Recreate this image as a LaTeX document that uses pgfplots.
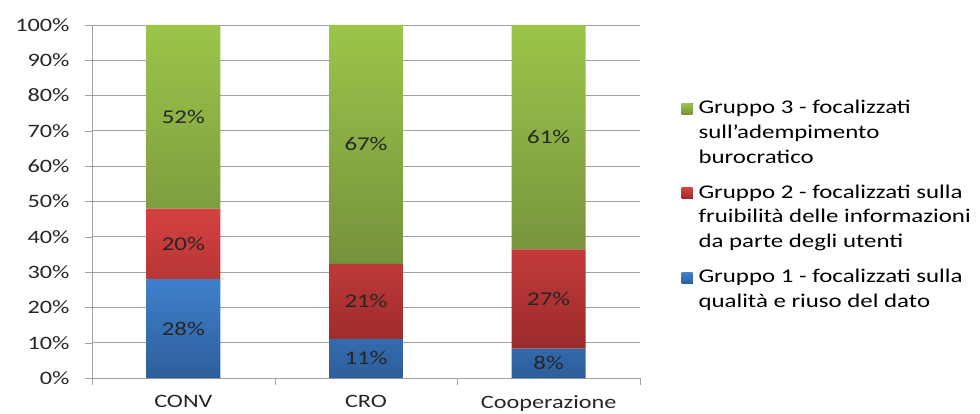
\documentclass[border=0pt]{standalone}
\usepackage{pgfplots}
\pgfplotsset{compat=1.18}
\usepackage{fontspec}
\setmainfont{Carlito}[FakeStretch=1.28]
\definecolor{gtop}{HTML}{9CC54A}
\definecolor{gbot}{HTML}{76923C}
\definecolor{rtop}{HTML}{D44141}
\definecolor{rbot}{HTML}{9B2B2B}
\definecolor{btop}{HTML}{3F80CC}
\definecolor{bbot}{HTML}{2D5E9B}
\definecolor{gridc}{HTML}{A0A0A0}
\begin{document}
\begin{tikzpicture}[x=1bp,y=1bp]
\useasboundingbox (0,0) rectangle (980,413);
\begin{axis}[
  at={(92bp,35bp)}, anchor=south west,
  width=548bp, height=353bp, scale only axis,
  ybar stacked, bar width=0.405,
  xmin=-0.5, xmax=2.5, ymin=0, ymax=100,
  axis lines=left, axis line style={draw=gridc,-},
  ymajorgrids, grid style={draw=gridc, line width=0.8bp},
  ytick={0,10,...,100},
  yticklabels={0\%,10\%,20\%,30\%,40\%,50\%,60\%,70\%,80\%,90\%,100\%},
  xtick={0,1,2}, xticklabels={CONV,CRO,Cooperazione},
  minor xtick={-0.5,0.5,1.5,2.5},
  tick align=outside, major tick length=7bp, minor tick length=7bp,
  major x tick style={draw=none},
  minor x tick style={draw=gridc},
  y tick style={draw=gridc},
  ticklabel style={font=\fontsize{19}{20}\selectfont, text=black!85},
  xticklabel style={yshift=-7bp},
  yticklabel style={xshift=-12bp},
  reverse legend,
  legend style={at={(1.07,0.80)}, anchor=north west, draw=none, fill=none,
    font=\fontsize{19.5}{25}\selectfont, row sep=16bp,
    nodes={align=left, anchor=base west}},
  legend cell align=left,
]
\addplot[draw=none, top color=btop, bottom color=bbot,
  legend image code/.code={\fill[top color=btop, bottom color=bbot] (0bp,24bp) rectangle (11bp,35bp); \path (15bp,24bp);}]
  coordinates {(0,28) (1,11.11) (2,8.33)};
\addlegendentry{Gruppo 1 - focalizzati sulla\\qualità e riuso del dato}
\addplot[draw=none, top color=rtop, bottom color=rbot,
  legend image code/.code={\fill[top color=rtop, bottom color=rbot] (0bp,49bp) rectangle (11bp,60bp); \path (15bp,49bp);}]
  coordinates {(0,20) (1,21.21) (2,28.13)};
\addlegendentry{Gruppo 2 - focalizzati sulla\\fruibilità delle informazioni\\da parte degli utenti}
\addplot[draw=none, top color=gtop, bottom color=gbot,
  legend image code/.code={\fill[top color=gtop, bottom color=gbot] (0bp,49bp) rectangle (11bp,60bp); \path (15bp,49bp);}]
  coordinates {(0,52) (1,67.68) (2,63.54)};
\addlegendentry{Gruppo 3 - focalizzati\\sull'adempimento\\burocratico}
\end{axis}
\begin{axis}[
  at={(92bp,35bp)}, anchor=south west,
  width=548bp, height=353bp, scale only axis,
  xmin=-0.5, xmax=2.5, ymin=0, ymax=100, hide axis,
]
\addplot[draw=none, mark=none, nodes near coords, point meta=explicit symbolic,
  nodes near coords align=center,
  every node near coord/.append style={font=\fontsize{19.5}{20}\selectfont, text=black!85, anchor=center}]
  coordinates {(0,14)[28\%] (0,38)[20\%] (0,74)[52\%]
               (1,5.56)[11\%] (1,21.72)[21\%] (1,66.16)[67\%]
               (2,4.17)[8\%] (2,22.4)[27\%] (2,68.23)[61\%]};
\end{axis}
\end{tikzpicture}
\end{document}
